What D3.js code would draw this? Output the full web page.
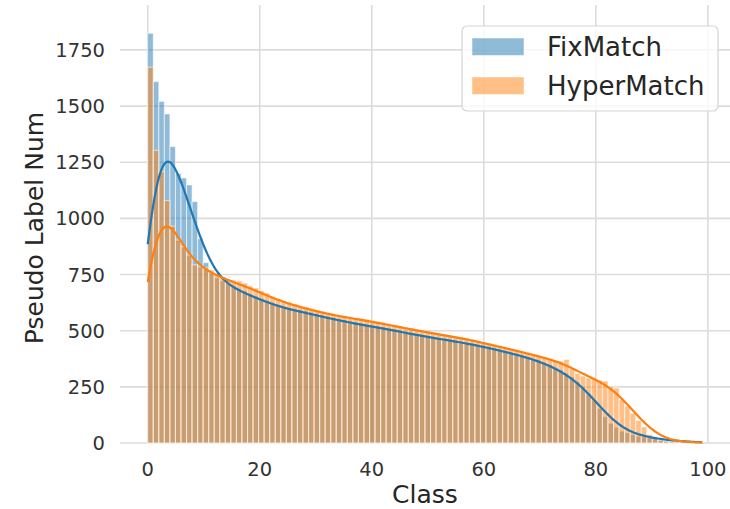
<!DOCTYPE html>
<html><head><meta charset="utf-8">
<script src="https://cdn.jsdelivr.net/npm/d3@7"></script>
<style>body{margin:0;background:#fff} svg{display:block}</style>
</head><body>
<svg id="chart" width="730" height="509"></svg>
<script>
// ---- data ----
const classes = d3.range(100);
const fixMatch = [
  1824,1609,1521,1465,1320,1200,1180,1149,1075,910,803,
  755,735,722,712,700,688,676,665,655,645,635,625,
  615,607,601,596,592,588,582,576,568,562,557,552,547,542,537,532,528,524,
  520,516,511,506,501,496,491,485,480,476,472,468,465,461,457,452,448,443,438,432,
  427,421,415,409,403,397,390,383,376,368,358,348,335,
  325,310,294,272,251,221,191,154,117,88,70,53,45,37,30,27,22,18,15,12,10,8,6,5,4,3
];
const hyperMatch = [
  1673,1303,1208,1079,965,904,874,837,793,785,780,
  770,755,741,727,726,722,712,699,690,678,668,652,
  641,633,626,619,612,606,599,593,586,580,575,570,566,562,558,555,551,546,
  541,536,531,526,521,516,512,506,501,496,492,488,484,480,476,472,468,462,455,448,
  443,437,432,426,420,415,408,401,395,388,382,375,368,
  365,372,330,310,298,290,286,280,276,252,245,192,165,133,100,72,38,20,12,8,6,5,4,3,2,2
];
const seriesNames = ["FixMatch", "HyperMatch"];
const seriesColors = ["#1f77b4", "#ff7f0e"];
const xTicks = [0, 20, 40, 60, 80, 100];
const yTicks = [0, 250, 500, 750, 1000, 1250, 1500, 1750];
const xLabel = "Class";
const yLabel = "Pseudo Label Num";

(function () {
// ---- layout ----
const svg = d3.select("#chart");
const pLeft = 120, pRight = 730, pTop = 5, pBottom = 443;
const xMin = d3.min(classes), xMax = d3.max(classes);
const nBins = classes.length;
const binW = (xMax - xMin) / nBins;
const pad = (xMax - xMin) * 0.05;
const x = d3.scaleLinear().domain([xMin - pad, xMax + pad]).range([pLeft, pRight]);
const y = d3.scaleLinear().domain([0, 1950]).range([pBottom, pTop]);
const font = "DejaVu Sans, Verdana, sans-serif";

// grid
svg.append("g").selectAll("line").data(yTicks).join("line")
  .attr("x1", pLeft).attr("x2", pRight)
  .attr("y1", d => y(d)).attr("y2", d => y(d))
  .attr("stroke", "#dcdcdc").attr("stroke-width", 1.6);
svg.append("g").selectAll("line").data(xTicks).join("line")
  .attr("x1", d => x(d)).attr("x2", d => x(d))
  .attr("y1", pTop).attr("y2", pBottom)
  .attr("stroke", "#dcdcdc").attr("stroke-width", 1.6);

// bars
const series = [fixMatch, hyperMatch];
series.forEach((vals, si) => {
  svg.append("g").selectAll("rect").data(vals).join("rect")
    .attr("x", (d, i) => x(xMin + i * binW))
    .attr("width", (d, i) => x(xMin + (i + 1) * binW) - x(xMin + i * binW))
    .attr("y", d => y(d))
    .attr("height", d => y(0) - y(d))
    .attr("fill", seriesColors[si]).attr("fill-opacity", 0.5)
    .attr("stroke", "#fff").attr("stroke-opacity", 0.55).attr("stroke-width", 1.1);
});

// KDE (gaussian, Scott bandwidth, scaled to counts)
function kde(vals) {
  const N = d3.sum(vals);
  const mean = d3.sum(vals, (c, i) => c * classes[i]) / N;
  const variance = d3.sum(vals, (c, i) => c * (classes[i] - mean) ** 2) / (N - 1);
  const bw = Math.sqrt(variance) * Math.pow(N, -1 / 5);
  const grid = d3.range(0, 401).map(j => xMin + (xMax - xMin) * j / 400);
  return grid.map(g => {
    let s = 0;
    vals.forEach((c, i) => {
      const z = (g - classes[i]) / bw;
      s += c * Math.exp(-0.5 * z * z) / (bw * Math.sqrt(2 * Math.PI));
    });
    return [g, s * binW];
  });
}
const line = d3.line().x(d => x(d[0])).y(d => y(d[1]));
series.forEach((vals, si) => {
  svg.append("path").datum(kde(vals))
    .attr("d", line).attr("fill", "none")
    .attr("stroke", seriesColors[si]).attr("stroke-width", 2.2);
});

// tick labels
svg.append("g").selectAll("text").data(yTicks).join("text")
  .attr("x", 105).attr("y", d => y(d) + 7)
  .attr("text-anchor", "end").attr("font-family", font).attr("font-size", 19.5)
  .attr("fill", "#333").text(d => d);
svg.append("g").selectAll("text").data(xTicks).join("text")
  .attr("x", d => x(d)).attr("y", 476)
  .attr("text-anchor", "middle").attr("font-family", font).attr("font-size", 19.5)
  .attr("fill", "#333").text(d => d);

// axis labels
svg.append("text").attr("x", (pLeft + pRight) / 2).attr("y", 503)
  .attr("text-anchor", "middle").attr("font-family", font).attr("font-size", 25)
  .attr("fill", "#262626").text(xLabel);
svg.append("text").attr("transform", `translate(43,${(13 + pBottom) / 2}) rotate(-90)`)
  .attr("text-anchor", "middle").attr("font-family", font).attr("font-size", 25)
  .attr("fill", "#262626").text(yLabel);

// legend
const lg = svg.append("g");
lg.append("rect").attr("x", 462).attr("y", 26).attr("width", 256).attr("height", 85)
  .attr("rx", 5).attr("fill", "#fff").attr("fill-opacity", 0.8)
  .attr("stroke", "#d6d6d6").attr("stroke-width", 1.2);
seriesNames.forEach((name, i) => {
  const yy = 38 + i * 39;
  lg.append("rect").attr("x", 472).attr("y", yy).attr("width", 52).attr("height", 17.5)
    .attr("fill", seriesColors[i]).attr("fill-opacity", 0.5)
    .attr("stroke", "#fff").attr("stroke-opacity", 0.5);
  lg.append("text").attr("x", 547).attr("y", yy + 18)
    .attr("font-family", font).attr("font-size", 26).attr("fill", "#262626").text(name);
});
})();
</script>
</body></html>
